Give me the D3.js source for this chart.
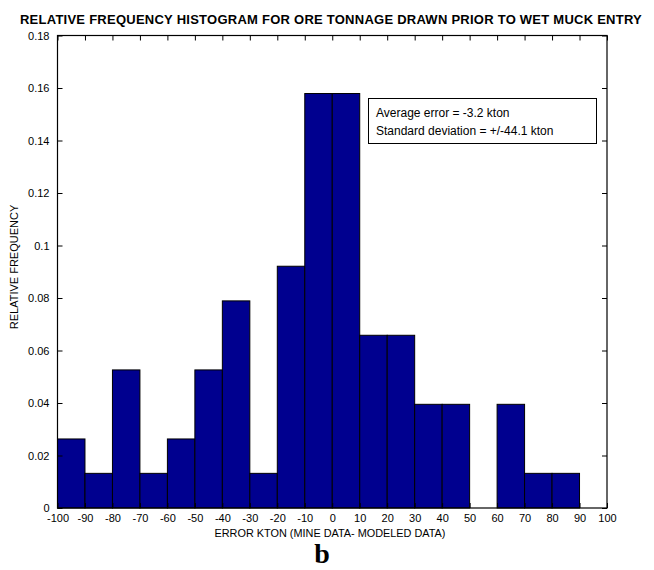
<!DOCTYPE html>
<html>
<head>
<meta charset="utf-8">
<script src="https://cdn.jsdelivr.net/npm/d3@7"></script>
<style>
  body { margin: 0; background: #fff; }
  text { font-family: Arial, "Liberation Sans", sans-serif; }
</style>
</head>
<body>
<div id="chart"></div>
<script>
// bin left edges (kton) and relative frequency of each 10 kton bin
const binStarts = [-100, -90, -80, -70, -60, -50, -40, -30, -20, -10, 0, 10, 20, 30, 40, 50, 60, 70, 80, 90];
const relFreq = [0.0263, 0.0132, 0.0526, 0.0132, 0.0263, 0.0526, 0.0789, 0.0132, 0.0921, 0.1579,
                 0.1579, 0.0658, 0.0658, 0.0395, 0.0395, 0, 0.0395, 0.0132, 0.0132, 0];
const binWidth = 10;

const xTicks = [-100, -90, -80, -70, -60, -50, -40, -30, -20, -10, 0, 10, 20, 30, 40, 50, 60, 70, 80, 90, 100];
const yTicks = [0, 0.02, 0.04, 0.06, 0.08, 0.1, 0.12, 0.14, 0.16, 0.18];
const yTickLabels = ["0", "0.02", "0.04", "0.06", "0.08", "0.1", "0.12", "0.14", "0.16", "0.18"];

const statsLines = ["Average error = -3.2 kton", "Standard deviation = +/-44.1 kton"];

const w = 654, h = 570;
const plotL = 57.5, plotR = 607, plotT = 35.5, plotB = 508;

const svg = d3.select('#chart')
  .append('svg')
  .attr('width', w)
  .attr('height', h);

const xScale = d3.scaleLinear().domain([-100, 100]).range([plotL, plotR]);
const yScale = d3.scaleLinear().domain([0, 0.18]).range([plotB, plotT]);

// bars
const bins = binStarts.map((b, i) => ({x0: b, x1: b + binWidth, v: relFreq[i]}));
svg.selectAll('rect.bar')
  .data(bins)
  .enter()
  .append('rect')
  .attr('class', 'bar')
  .attr('x', d => xScale(d.x0))
  .attr('y', d => yScale(d.v))
  .attr('width', d => xScale(d.x1) - xScale(d.x0))
  .attr('height', d => yScale(0) - yScale(d.v))
  .attr('fill', d => d.v > 0 ? '#00008f' : 'none')
  .attr('stroke', d => d.v > 0 ? '#000' : 'none')
  .attr('stroke-width', 1);

// axes (MATLAB style: ticks inward, all four sides)
const fmtX = d => String(d);
const fmtY = d => yTickLabels[yTicks.indexOf(d)];

const xAxis = d3.axisBottom(xScale).tickValues(xTicks).tickFormat(fmtX)
  .tickSizeInner(-5).tickSizeOuter(0).tickPadding(6);
svg.append('g')
  .attr('class', 'axis')
  .attr('transform', 'translate(0,' + plotB + ')')
  .call(xAxis);

svg.append('g')
  .attr('class', 'axis')
  .attr('transform', 'translate(0,' + plotT + ')')
  .call(d3.axisTop(xScale).tickValues(xTicks).tickFormat('').tickSizeInner(-5).tickSizeOuter(0));

const yAxis = d3.axisLeft(yScale).tickValues(yTicks).tickFormat(fmtY)
  .tickSizeInner(-5).tickSizeOuter(0).tickPadding(8);
svg.append('g')
  .attr('class', 'axis')
  .attr('transform', 'translate(' + plotL + ',0)')
  .call(yAxis);

svg.append('g')
  .attr('class', 'axis')
  .attr('transform', 'translate(' + plotR + ',0)')
  .call(d3.axisRight(yScale).tickValues(yTicks).tickFormat('').tickSizeInner(-5).tickSizeOuter(0));

svg.selectAll('.axis .domain').remove();
svg.selectAll('.axis line').attr('stroke', '#000');
svg.selectAll('.axis text')
  .attr('fill', '#000')
  .style('font-size', '11px')
  .style('font-family', 'Arial, "Liberation Sans", sans-serif');

// box round the plot
svg.append('rect')
  .attr('x', plotL)
  .attr('y', plotT)
  .attr('width', plotR - plotL)
  .attr('height', plotB - plotT)
  .attr('fill', 'none')
  .attr('stroke', '#000')
  .attr('stroke-width', 1.2);

// title
svg.append('text')
  .attr('x', 331)
  .attr('y', 24)
  .attr('text-anchor', 'middle')
  .style('font-size', '13px')
  .style('letter-spacing', '0.25px')
  .style('font-weight', 'bold')
  .text('RELATIVE FREQUENCY HISTOGRAM FOR ORE TONNAGE DRAWN PRIOR TO WET MUCK ENTRY');

// axis labels
svg.append('text')
  .attr('x', 330)
  .attr('y', 537)
  .attr('text-anchor', 'middle')
  .attr('textLength', 231)
  .attr('lengthAdjust', 'spacingAndGlyphs')
  .style('font-size', '11px')
  .text('ERROR KTON (MINE DATA- MODELED DATA)');

svg.append('text')
  .attr('transform', 'translate(18,' + 267 + ') rotate(-90)')
  .attr('text-anchor', 'middle')
  .style('font-size', '11px')
  .text('RELATIVE FREQUENCY');

// stats box
svg.append('rect')
  .attr('x', 368.5)
  .attr('y', 98.5)
  .attr('width', 228)
  .attr('height', 45)
  .attr('fill', '#fff')
  .attr('stroke', '#000');

svg.selectAll('text.stats')
  .data(statsLines)
  .enter()
  .append('text')
  .attr('class', 'stats')
  .attr('x', 376)
  .attr('y', (d, i) => 117 + i * 18)
  .style('font-size', '12px')
  .text(d => d);

// panel letter
svg.append('text')
  .attr('x', 322)
  .attr('y', 563)
  .attr('text-anchor', 'middle')
  .style('font-family', '"Times New Roman", "Liberation Serif", serif')
  .style('font-weight', 'bold')
  .style('font-size', '28px')
  .text('b');
</script>
</body>
</html>
